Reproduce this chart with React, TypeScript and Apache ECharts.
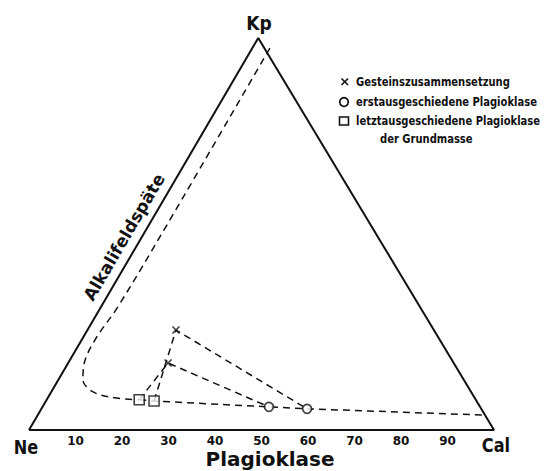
import React, { useEffect, useRef } from "react";
import * as echarts from "echarts";

// ---- data (ternary diagram projected: x along Ne–Cal base, y = Kp height, both 0..100) ----
const tickValues = [10, 20, 30, 40, 50, 60, 70, 80, 90];
const triangle: number[][] = [[0, 0], [49.3, 100], [100, 0], [0, 0]];
// × Gesteinszusammensetzung
const rockComp: number[][] = [[31.6, 25.5], [29.9, 17.1]];
// ○ erstausgeschiedene Plagioklase
const earlyPlag: number[][] = [[59.8, 5.4], [51.6, 5.9]];
// □ letztausgeschiedene Plagioklase der Grundmasse
const latePlag: number[][] = [[26.9, 7.4], [23.7, 7.7]];
// dashed boundary curve from near Kp down to the residual plagioclase
const boundaryCurve: number[][] = [
  [51.8, 97.4], [29.9, 52.8], [19.1, 31.4], [14.2, 23.0], [11.8, 16.6],
  [11.6, 12.8], [13.5, 9.9], [17.4, 8.4], [23.7, 7.7],
];
// dashed trend along the base toward Cal
const plagTrend: number[][] = [[23.7, 7.7], [26.9, 7.4], [51.6, 5.9], [59.8, 5.4], [98.1, 3.8]];
const legendLabels = ["Gesteinszusammensetzung", "erstausgeschiedene Plagioklase", "letztausgeschiedene Plagioklase"];
const legendSubLabel = "der Grundmasse";

const FONT = '"DejaVu Sans", sans-serif';
const INK = "#111";

export default function App() {
  const ref = useRef<HTMLDivElement>(null);
  useEffect(() => {
    if (!ref.current) return;
    const chart = echarts.init(ref.current, undefined, { renderer: "svg" });
    const dashed = { color: INK, width: 1.5, type: [7, 5] as any };
    const tieSeries = rockComp.map((r, i) => ({
      type: "line" as const,
      data: [latePlag[i], r, earlyPlag[i]],
      symbol: "none",
      lineStyle: dashed,
      silent: true,
      z: 2,
    }));
    const legendText = (text: string, x: number, y: number) => ({
      type: "text", x, y, scaleX: 0.8,
      style: { text, fontSize: 12.5, fontWeight: "bold", fontFamily: FONT, fill: INK, verticalAlign: "middle" },
    });
    const bigLabel = (text: string, x: number, y: number, size: number, sx: number) => ({
      type: "text", x, y, scaleX: sx,
      style: { text, fontSize: size, fontWeight: "bold", fontFamily: FONT, fill: INK, align: "center", verticalAlign: "middle" },
    });
    chart.setOption({
      animation: false,
      backgroundColor: "#fff",
      grid: { left: 29, top: 38, width: 465, height: 392 },
      xAxis: {
        type: "value",
        min: 0,
        max: 100,
        interval: 10,
        axisLine: { show: false },
        axisTick: { show: false },
        splitLine: { show: false },
        axisLabel: {
          margin: 5,
          fontSize: 12,
          fontWeight: "bold",
          fontFamily: FONT,
          color: INK,
          formatter: (v: number) => (tickValues.includes(v) ? String(v) : ""),
        },
      },
      yAxis: { type: "value", min: 0, max: 100, show: false },
      series: [
        { type: "line", data: triangle, symbol: "none", lineStyle: { color: INK, width: 2 }, silent: true, z: 1 },
        { type: "line", data: boundaryCurve, symbol: "none", smooth: 0.35, lineStyle: dashed, silent: true, z: 2 },
        { type: "line", data: plagTrend, symbol: "none", lineStyle: dashed, silent: true, z: 2 },
        ...tieSeries,
        {
          name: legendLabels[0],
          type: "scatter",
          data: rockComp,
          symbol: "path://M0,0L10,10M10,0L0,10",
          symbolSize: 7,
          itemStyle: { color: "none", borderColor: INK, borderWidth: 1.6 },
          z: 5,
        },
        {
          name: legendLabels[1],
          type: "scatter",
          data: earlyPlag,
          symbol: "circle",
          symbolSize: 9,
          itemStyle: { color: "#fff", borderColor: INK, borderWidth: 1.8 },
          z: 5,
        },
        {
          name: legendLabels[2],
          type: "scatter",
          data: latePlag,
          symbol: "rect",
          symbolSize: 10,
          itemStyle: { color: "#fff", borderColor: INK, borderWidth: 1.6 },
          z: 5,
        },
      ],
      graphic: [
        // legend
        { type: "line", shape: { x1: 341.5, y1: 78.5, x2: 348, y2: 85 }, style: { stroke: INK, lineWidth: 1.6 } },
        { type: "line", shape: { x1: 348, y1: 78.5, x2: 341.5, y2: 85 }, style: { stroke: INK, lineWidth: 1.6 } },
        { type: "circle", shape: { cx: 344, cy: 102, r: 4.3 }, style: { fill: "#fff", stroke: INK, lineWidth: 1.7 } },
        { type: "rect", shape: { x: 339.5, y: 117, width: 9, height: 8 }, style: { fill: "#fff", stroke: INK, lineWidth: 1.6 } },
        legendText(legendLabels[0], 356, 82),
        legendText(legendLabels[1], 356, 102),
        legendText(legendLabels[2], 356, 121),
        legendText(legendSubLabel, 380, 139),
        // vertex and side labels
        bigLabel("Kp", 259, 23, 19, 0.9),
        bigLabel("Ne", 26, 448, 19, 0.85),
        bigLabel("Cal", 496, 446, 19, 0.85),
        bigLabel("Plagioklase", 270, 459, 20, 1),
        {
          type: "text", x: 124, y: 237, rotation: (59.7 * Math.PI) / 180,
          style: { text: "Alkalifeldspäte", fontSize: 17, fontWeight: "bold", fontFamily: FONT, fill: INK, align: "center", verticalAlign: "middle" },
        },
      ],
    });
    return () => chart.dispose();
  }, []);
  return <div ref={ref} style={{ position: "fixed", left: 0, top: 0, width: 548, height: 471, background: "#fff" }} />;
}
